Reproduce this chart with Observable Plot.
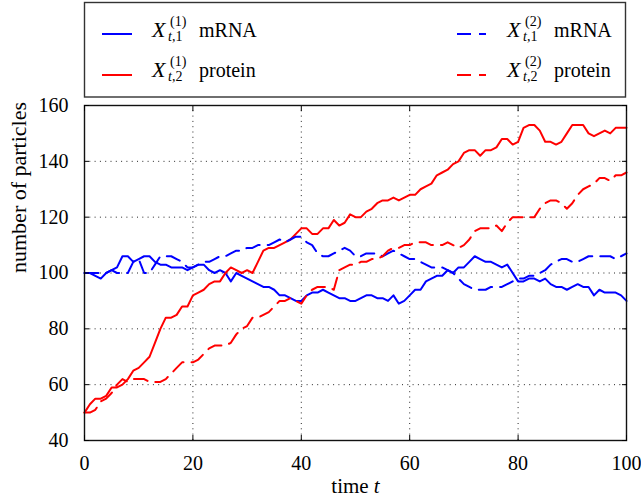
<!DOCTYPE html>
<html>
<head>
<meta charset="utf-8">
<script src="https://cdn.jsdelivr.net/npm/d3@7"></script>
<script src="https://cdn.jsdelivr.net/npm/@observablehq/plot@0.6"></script>
<style>
  html, body { margin: 0; padding: 0; background: #fff; }
  #wrap { position: relative; width: 641px; height: 500px; font-family: 'Liberation Serif'; }
  #wrap svg.overlay { position: absolute; left: 0; top: 0; }
</style>
</head>
<body>
<div id="wrap"></div>
<script>
// ---- data ----
const time = d3.range(0, 101);

const mrna1 = [
  100,100,99,98,100,101,102,106,106,104,
  105,106,106,104,103,103,102,102,102,101,
  102,103,103,101,100,101,100,97,100,99,
  98,97,96,95,95,94,92,92,91,90,
  90,92,93,93,94,93,92,91,91,90,
  90,91,92,92,91,91,90,92,89,90,
  92,94,94,97,98,99,99,101,100,102,
  102,104,106,105,104,104,103,102,103,100,
  97,97,98,98,97,98,96,95,95,94,
  95,96,95,95,92,94,93,93,93,92,
  90];

const protein1 = [
  50,53,55,55,56,59,59,60,62,65,
  66,68,70,75,80,84,84,85,88,88,
  92,93,94,96,97,97,100,102,101,100,
  101,100,104,108,109,109,110,111,112,114,
  116,116,114,114,116,116,119,117,118,121,
  120,120,122,123,125,126,126,127,126,127,
  128,128,130,131,132,135,136,137,139,140,
  143,144,144,142,144,144,145,148,148,146,
  147,152,153,153,151,147,147,146,147,150,
  153,153,153,150,149,150,151,150,152,152,
  152];

const mrna2 = [
  100,100,100,100,100,101,100,100,100,104,
  105,100,100,103,106,106,106,105,104,102,
  102,103,104,104,105,106,106,107,108,108,
  109,109,110,110,110,111,112,111,112,113,
  113,111,110,107,106,106,107,108,109,108,
  106,106,107,107,107,106,107,108,107,106,
  105,105,104,103,102,102,102,101,100,98,
  96,95,94,94,94,95,95,95,96,97,
  98,98,99,99,100,101,103,104,105,105,
  104,104,105,106,106,106,106,106,105,106,
  107];

const protein2 = [
  50,50,51,54,55,57,60,62,61,62,
  62,62,61,61,61,62,64,66,68,68,
  68,69,71,73,74,74,74,75,78,80,
  81,84,84,85,86,88,90,90,91,90,
  89,92,94,95,95,95,94,101,102,103,
  103,104,104,105,105,106,108,109,109,110,
  110,111,111,111,110,110,110,111,110,109,
  110,112,115,116,116,116,117,115,118,120,
  120,120,120,120,123,125,126,126,125,123,
  125,128,130,131,132,134,134,133,135,135,
  136];

const xTicks = [0, 20, 40, 60, 80, 100];
const yTicks = [40, 60, 80, 100, 120, 140, 160];
const xLabel = "time t";
const yLabel = "number of particles";

const seriesKeys = ["mrna1", "protein1", "mrna2", "protein2"];
const seriesValues = { mrna1, protein1, mrna2, protein2 };
const legendSup = { mrna1: "(1)", protein1: "(1)", mrna2: "(2)", protein2: "(2)" };
const legendSub = { mrna1: "1", protein1: "2", mrna2: "1", protein2: "2" };
const legendWord = { mrna1: "mRNA", protein1: "protein", mrna2: "mRNA", protein2: "protein" };

// ---- styles ----
const FONT = "Liberation Serif";
const seriesStyle = {
  mrna1:    { stroke: "#0000ff", dash: null },
  protein1: { stroke: "#ff0000", dash: null },
  mrna2:    { stroke: "#0000ff", dash: "14,8" },
  protein2: { stroke: "#ff0000", dash: "14,8" }
};

const lineMarks = seriesKeys.map(k => Plot.line(time, {
  x: d => d,
  y: (d, i) => seriesValues[k][i],
  stroke: seriesStyle[k].stroke,
  strokeWidth: 2,
  strokeDasharray: seriesStyle[k].dash
}));

const noLabel = () => "";

const chart = Plot.plot({
  width: 641,
  height: 500,
  marginTop: 105,
  marginBottom: 60,
  marginLeft: 84,
  marginRight: 15,
  x: { domain: [0, 100] },
  y: { domain: [40, 160] },
  style: "font-family: 'Liberation Serif'; font-size: 20px; background: #fff; overflow: visible; color: #000;",
  marks: [
    Plot.gridX({ ticks: xTicks, stroke: "#000", strokeOpacity: 0.85, strokeDasharray: "1,4.3" }),
    Plot.gridY({ ticks: yTicks, stroke: "#000", strokeOpacity: 0.85, strokeDasharray: "1,4.3" }),
    ...lineMarks,
    Plot.frame({ stroke: "#111", strokeWidth: 1.4 }),
    // inward tick marks on all four sides (labels drawn by text marks below)
    Plot.axisX({ ticks: xTicks, anchor: "bottom", tickSize: -5, tickFormat: noLabel, label: null }),
    Plot.axisX({ ticks: xTicks, anchor: "top", tickSize: -5, tickFormat: noLabel, label: null }),
    Plot.axisY({ ticks: yTicks, anchor: "left", tickSize: -5, tickFormat: noLabel, label: null }),
    Plot.axisY({ ticks: yTicks, anchor: "right", tickSize: -5, tickFormat: noLabel, label: null }),
    // tick labels as plain text marks (serif face)
    Plot.text(xTicks, { x: d => d, text: d => String(d), frameAnchor: "bottom", dy: 23, fontSize: 20, fontFamily: FONT, lineAnchor: "middle" }),
    Plot.text(yTicks, { y: d => d, text: d => String(d), frameAnchor: "left", dx: -16, textAnchor: "end", fontSize: 20, fontFamily: FONT, lineAnchor: "middle" }),
    Plot.text([xLabel], { text: d => d, frameAnchor: "bottom", dy: 46, fontSize: 21, fontFamily: FONT, lineAnchor: "middle" }),
    Plot.text([yLabel], { text: d => d, frameAnchor: "left", dx: -66, rotate: -90, fontSize: 22, fontFamily: FONT, lineAnchor: "middle" })
  ]
});

document.getElementById("wrap").appendChild(chart);

// italic t in x label
d3.select(chart).selectAll("text")
  .filter(function () { return this.textContent === xLabel; })
  .each(function () {
    const s = d3.select(this);
    s.text("time ");
    s.append("tspan").attr("font-style", "italic").text("t");
  });

// ---- legend ----
const legendPos = {
  mrna1:    { col: 0, row: 0 },
  protein1: { col: 0, row: 1 },
  mrna2:    { col: 1, row: 0 },
  protein2: { col: 1, row: 1 }
};
const colLayout = [ { sx1: 102, sx2: 132, tx: 152 }, { sx1: 457, sx2: 486, tx: 507 } ];
const rowLayout = [ { base: 37, sy: 34 }, { base: 77, sy: 75 } ];

const lg = d3.select("#wrap").append("svg")
  .attr("class", "overlay")
  .attr("width", 641).attr("height", 100)
  .attr("font-family", FONT);

lg.append("rect")
  .attr("x", 84.5).attr("y", 2.5).attr("width", 541).attr("height", 94.5)
  .attr("fill", "#fff").attr("stroke", "#333").attr("stroke-width", 1.4);

seriesKeys.forEach(k => {
  const c = colLayout[legendPos[k].col], r = rowLayout[legendPos[k].row];
  lg.append("line")
    .attr("x1", c.sx1).attr("x2", c.sx2).attr("y1", r.sy).attr("y2", r.sy)
    .attr("stroke", seriesStyle[k].stroke).attr("stroke-width", 2)
    .attr("stroke-dasharray", seriesStyle[k].dash);
  const t = lg.append("text").attr("x", c.tx).attr("y", r.base)
    .attr("font-family", FONT).attr("font-size", 20).attr("fill", "#000");
  t.append("tspan").attr("font-style", "italic").attr("font-size", 22).text("X");
  t.append("tspan").attr("x", c.tx + 18).attr("y", r.base - 11).attr("font-size", 14).text(legendSup[k]);
  const sub = t.append("tspan").attr("x", c.tx + 16).attr("y", r.base + 4).attr("font-size", 14);
  sub.append("tspan").attr("font-style", "italic").text("t");
  sub.append("tspan").text("," + legendSub[k]);
  t.append("tspan").attr("x", c.tx + 47).attr("y", r.base).text(legendWord[k]);
});
</script>
</body>
</html>
